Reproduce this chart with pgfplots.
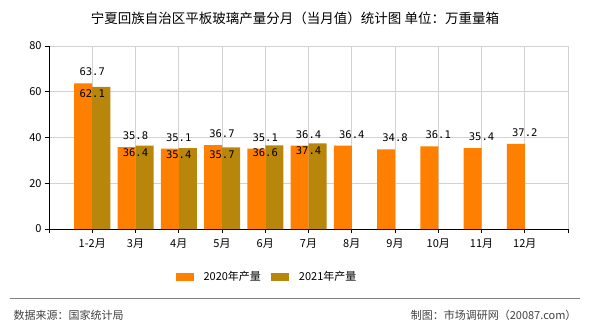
\documentclass[border=0pt]{standalone}
\usepackage{pgfplots}
\pgfplotsset{compat=1.18}
\usepackage{fontspec}
\setmainfont{Noto Sans CJK SC}
\newfontfamily\monofont{DejaVu Sans Mono}
\definecolor{c2020}{HTML}{FF8000}
\definecolor{c2021}{HTML}{B8860B}
\begin{document}
\begin{tikzpicture}[x=1pt,y=1pt]
\path[use as bounding box] (0,0) rectangle (590,330);
\node at (295,312) {\fontsize{13.5}{15}\selectfont 宁夏回族自治区平板玻璃产量分月（当月值）统计图 单位：万重量箱};
\begin{axis}[at={(49pt,101pt)}, anchor=south west, scale only axis,
  width=519pt, height=183pt,
  xmin=0, xmax=12, ymin=0, ymax=80,
  xtick={0,...,12},
  xticklabels={,1-2月,3月,4月,5月,6月,7月,8月,9月,10月,11月,12月,},
  ytick={0,20,40,60,80},
  grid=major, major grid style={gray!35, line width=0.8pt},
  axis x line*=bottom, axis y line*=left,
  axis line style={black, line width=0.8pt, -},
  tick style={black, line width=0.8pt},
  major tick length=4pt, tick align=outside,
  ticklabel style={font=\fontsize{11}{12}\selectfont},
  xticklabel style={yshift=-2pt},
  /pgf/number format/assume math mode=true,
  legend columns=2,
  legend style={draw=none, at={(0.42,-0.262)}, anchor=center,
    font=\fontsize{11}{12}\selectfont, column sep=8pt},
  legend image code/.code={\fill[#1] (0pt,-4pt) rectangle (18pt,4pt);},
]
\addplot[ybar, bar width=18pt, bar shift=-9pt, fill=c2020, draw=none,
  nodes near coords, every node near coord/.append style={font=\monofont\fontsize{10.5}{12}\selectfont, black, anchor=south, yshift=4pt, xshift=0pt}]
  coordinates {(1,63.7) (2,35.8) (3,35.1) (4,36.7) (5,35.1) (6,36.4) (7,36.4) (8,34.8) (9,36.1) (10,35.4) (11,37.2)};
\addlegendentry{2020年产量}
\addplot[ybar, bar width=18pt, bar shift=9pt, fill=c2021, draw=none,
  nodes near coords, every node near coord/.append style={font=\monofont\fontsize{10.5}{12}\selectfont, black, anchor=center, yshift=-7pt}]
  coordinates {(1,62.1) (2,36.4) (3,35.4) (4,35.7) (5,36.6) (6,37.4)};
\addlegendentry{2021年产量}
\end{axis}
\draw[gray, line width=1pt] (10,32) -- (580,32);
\node[anchor=west, text=black!75] at (10,15) {\fontsize{11}{13}\selectfont 数据来源：国家统计局};
\node[anchor=east, text=black!75] at (580,15) {\fontsize{11}{13}\selectfont 制图：市场调研网（20087.com）};
\end{tikzpicture}
\end{document}
